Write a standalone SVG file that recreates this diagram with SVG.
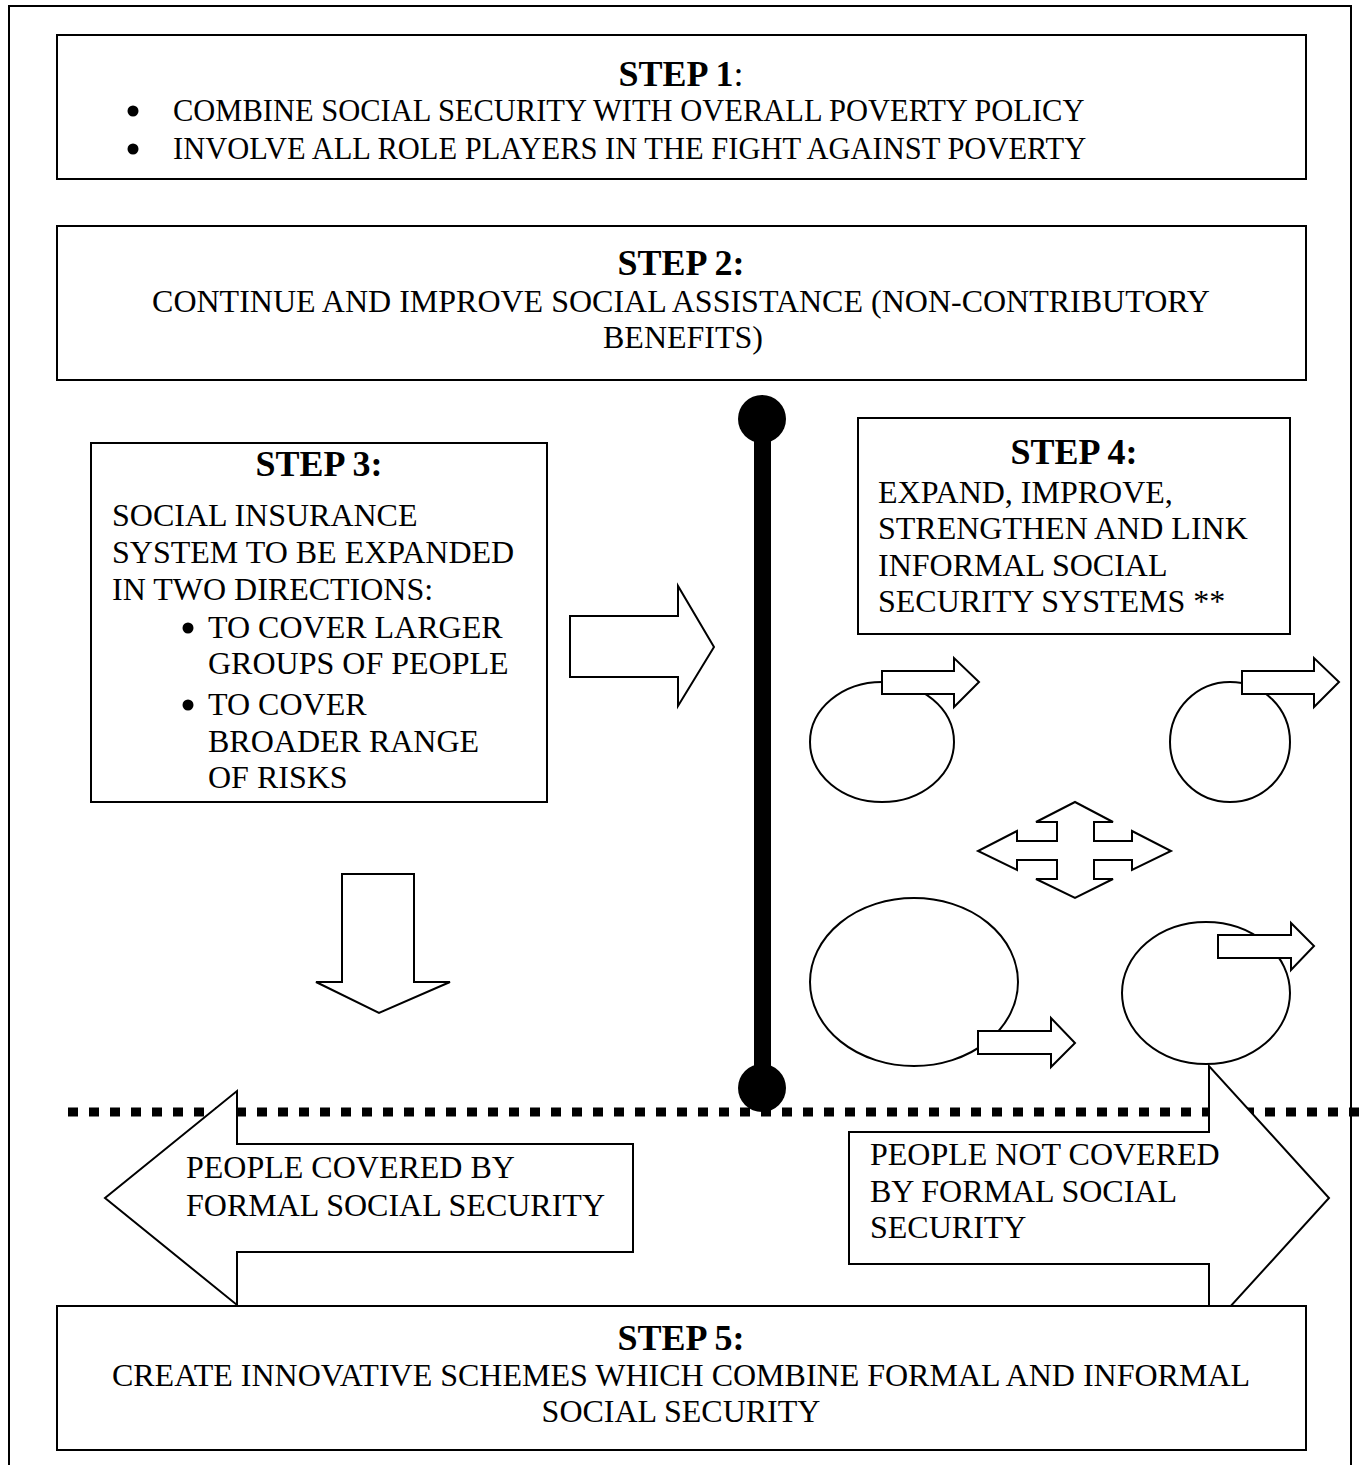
<svg xmlns="http://www.w3.org/2000/svg" width="1359" height="1465" viewBox="0 0 1359 1465">
<style>
.box{fill:#fff;stroke:#000;stroke-width:2}
.shape{fill:#fff;stroke:#000;stroke-width:2;stroke-linejoin:miter}
.t{font-family:"Liberation Serif","Times New Roman",serif;font-size:32px;fill:#000}
.s{font-size:30.5px}
.h{font-family:"Liberation Serif","Times New Roman",serif;font-size:36px;font-weight:bold;fill:#000}
.c{text-anchor:middle}
.b{fill:#000}
</style>
<rect x="0" y="0" width="1359" height="1465" fill="#fff"/>
<rect id="frame" x="9" y="6" width="1342" height="1480" fill="none" stroke="#000" stroke-width="2"/>

<g id="step1">
<rect class="box" x="57" y="35" width="1249" height="144"/>
<text class="h c" x="681" y="86">STEP 1<tspan font-weight="normal">:</tspan></text>
<circle class="b" cx="133" cy="111" r="5.5"/>
<text class="t s" x="173" y="121">COMBINE SOCIAL SECURITY WITH OVERALL POVERTY POLICY</text>
<circle class="b" cx="133" cy="149" r="5.5"/>
<text class="t s" x="173" y="159">INVOLVE ALL ROLE PLAYERS IN THE FIGHT AGAINST POVERTY</text>
</g>

<g id="step2">
<rect class="box" x="57" y="226" width="1249" height="154"/>
<text class="h c" x="681" y="275">STEP 2:</text>
<text class="t c" x="681" y="312">CONTINUE AND IMPROVE SOCIAL ASSISTANCE (NON-CONTRIBUTORY</text>
<text class="t c" x="683" y="348">BENEFITS)</text>
</g>

<g id="step3">
<rect class="box" x="91" y="443" width="456" height="359"/>
<text class="h c" x="319" y="476">STEP 3:</text>
<text class="t" x="112" y="526">SOCIAL INSURANCE</text>
<text class="t" x="112" y="563">SYSTEM TO BE EXPANDED</text>
<text class="t" x="112" y="600">IN TWO DIRECTIONS:</text>
<circle class="b" cx="188" cy="628" r="5.5"/>
<text class="t" x="208" y="638">TO COVER LARGER</text>
<text class="t" x="208" y="674">GROUPS OF PEOPLE</text>
<circle class="b" cx="188" cy="705" r="5.5"/>
<text class="t" x="208" y="715">TO COVER</text>
<text class="t" x="208" y="752">BROADER RANGE</text>
<text class="t" x="208" y="788">OF RISKS</text>
</g>

<g id="step4">
<rect class="box" x="858" y="418" width="432" height="216"/>
<text class="h c" x="1074" y="464">STEP 4:</text>
<text class="t" x="878" y="503">EXPAND, IMPROVE,</text>
<text class="t" x="878" y="539">STRENGTHEN AND LINK</text>
<text class="t" x="878" y="576">INFORMAL SOCIAL</text>
<text class="t" x="878" y="612">SECURITY SYSTEMS **</text>
</g>

<g id="informal-systems">
<ellipse class="shape" cx="882" cy="742" rx="72" ry="60"/>
<ellipse class="shape" cx="1230" cy="742" rx="60" ry="60"/>
<ellipse class="shape" cx="914" cy="982" rx="104" ry="84"/>
<ellipse class="shape" cx="1206" cy="993" rx="84" ry="71"/>
</g>

<g id="connectors">
<line x1="68" y1="1112" x2="1359" y2="1112" stroke="#000" stroke-width="9" stroke-dasharray="10 11"/>
<polygon class="shape" points="570,616 678,616 678,586 714,647 678,706 678,677 570,677"/>
<polygon class="shape" points="342,874 414,874 414,982 450,982 379,1013 316,982 342,982"/>
<polygon class="shape" points="882,671 954,671 954,658 979,682 954,707 954,694 882,694"/>
<polygon class="shape" points="1242,671 1314,671 1314,658 1339,682 1314,707 1314,694 1242,694"/>
<polygon class="shape" points="978,1031 1051,1031 1051,1018 1075,1043 1051,1067 1051,1054 978,1054"/>
<polygon class="shape" points="1218,935 1291,935 1291,923 1314,946 1291,970 1291,958 1218,958"/>
<polygon class="shape" points="1075,802 1113,822 1094,822 1094,841 1132,841 1132,831 1171,851 1132,870 1132,860 1094,860 1094,879 1113,879 1075,898 1036,879 1057,879 1057,860 1017,860 1017,870 978,851 1017,831 1017,841 1057,841 1057,822 1036,822"/>
<g id="divider">
<rect x="754" y="420" width="17" height="668" fill="#000"/>
<circle cx="762" cy="419" r="24" fill="#000"/>
<circle cx="762" cy="1088" r="24" fill="#000"/>
</g>
</g>

<g id="covered">
<polygon class="shape" points="633,1144 633,1252 237,1252 237,1305 105,1198 237,1091 237,1144"/>
<text class="t" x="186" y="1178">PEOPLE COVERED BY</text>
<text class="t" x="186" y="1216">FORMAL SOCIAL SECURITY</text>
</g>

<g id="not-covered">
<polygon class="shape" points="849,1132 1209,1132 1209,1066 1329,1198 1209,1330 1209,1264 849,1264"/>
<text class="t" x="870" y="1165">PEOPLE NOT COVERED</text>
<text class="t" x="870" y="1202">BY FORMAL SOCIAL</text>
<text class="t" x="870" y="1238">SECURITY</text>
</g>

<g id="step5">
<rect class="box" x="57" y="1306" width="1249" height="144"/>
<text class="h c" x="681" y="1350">STEP 5:</text>
<text class="t c" x="681" y="1386">CREATE INNOVATIVE SCHEMES WHICH COMBINE FORMAL AND INFORMAL</text>
<text class="t c" x="681" y="1422">SOCIAL SECURITY</text>
</g>
</svg>
